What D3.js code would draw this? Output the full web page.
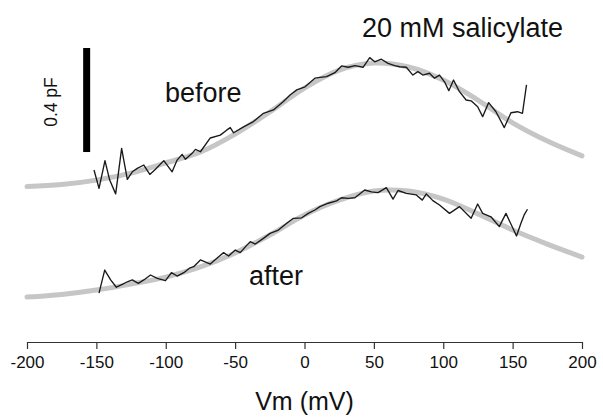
<!DOCTYPE html>
<html>
<head>
<meta charset="utf-8">
<script src="https://cdn.jsdelivr.net/npm/d3@7"></script>
<style>
  html, body { margin: 0; padding: 0; background: #fff; }
  svg { display: block; font-family: "Liberation Sans", Arial, sans-serif; }
</style>
</head>
<body>
<svg id="chart" width="603" height="419"></svg>
<script>
// ---- data (Vm in mV, capacitance in pF, traces vertically offset) ----
const xTicks = [-200, -150, -100, -50, 0, 50, 100, 150, 200];

const fitV = [-200, -175, -150, -125, -100, -75, -50, -25, 0, 25, 50, 75, 100, 125, 150, 175, 200];
const beforeFit = [0.590, 0.598, 0.615, 0.642, 0.681, 0.723, 0.792, 0.877, 0.969, 1.038, 1.065, 1.050, 1.000, 0.923, 0.835, 0.765, 0.708];
const afterFit  = [0.165, 0.175, 0.192, 0.215, 0.242, 0.281, 0.335, 0.404, 0.481, 0.538, 0.573, 0.573, 0.542, 0.485, 0.423, 0.369, 0.319];

const beforeV = [-151.7, -148.1, -143.8, -140.4, -136.1, -131.8, -127.7, -124.1, -120.5, -115.8, -111.5, -107.4, -101.4, -95.4, -91.8, -88.2, -85.8, -81.0, -78.6, -75.0, -67.9, -60.7, -55.9, -53.5, -51.1, -43.9, -36.8, -29.6, -22.4, -15.2, -10.4, -5.6, 0.4, 7.5, 11.1, 15.9, 21.9, 26.7, 31.5, 36.3, 42.2, 47.0, 50.6, 55.4, 60.2, 65.0, 68.6, 73.4, 78.1, 81.7, 85.3, 90.1, 93.7, 97.3, 100.9, 104.0, 107.4, 111.7, 116.5, 120.1, 124.8, 128.4, 132.7, 138.0, 144.0, 148.8, 153.5, 157.1, 160.0];
const beforeC = [0.654, 0.583, 0.690, 0.615, 0.562, 0.737, 0.618, 0.647, 0.660, 0.673, 0.637, 0.657, 0.690, 0.647, 0.692, 0.714, 0.695, 0.718, 0.733, 0.724, 0.777, 0.788, 0.808, 0.817, 0.797, 0.820, 0.840, 0.872, 0.885, 0.917, 0.942, 0.962, 0.974, 1.007, 1.010, 1.013, 1.028, 1.054, 1.049, 1.055, 1.049, 1.086, 1.070, 1.080, 1.064, 1.055, 1.051, 1.049, 1.019, 1.032, 1.019, 1.026, 1.007, 1.019, 0.993, 0.959, 1.000, 0.955, 0.923, 0.920, 0.897, 0.859, 0.913, 0.878, 0.817, 0.874, 0.878, 0.872, 0.981];

const afterV = [-148.1, -144.0, -139.7, -135.6, -131.3, -127.7, -124.1, -119.8, -115.8, -111.0, -106.1, -100.2, -95.9, -91.8, -87.0, -82.9, -79.9, -75.0, -67.9, -61.9, -58.3, -54.7, -49.9, -46.3, -41.5, -39.1, -35.5, -29.6, -24.8, -18.8, -12.8, -8.0, -2.0, 2.7, 7.5, 11.1, 17.1, 23.1, 26.7, 31.5, 36.3, 43.4, 48.3, 53.0, 59.0, 63.8, 67.4, 73.4, 80.6, 84.9, 87.8, 92.5, 97.3, 104.5, 111.7, 120.1, 124.8, 128.4, 134.4, 140.4, 145.2, 152.8, 156.0, 158.3, 160.7];
const afterC = [0.180, 0.269, 0.231, 0.203, 0.214, 0.224, 0.231, 0.218, 0.231, 0.250, 0.237, 0.228, 0.259, 0.246, 0.259, 0.276, 0.282, 0.308, 0.292, 0.320, 0.336, 0.323, 0.346, 0.336, 0.365, 0.378, 0.369, 0.391, 0.410, 0.423, 0.449, 0.468, 0.470, 0.487, 0.500, 0.513, 0.526, 0.535, 0.547, 0.545, 0.547, 0.577, 0.570, 0.567, 0.586, 0.542, 0.575, 0.564, 0.558, 0.538, 0.562, 0.536, 0.519, 0.487, 0.513, 0.468, 0.523, 0.487, 0.474, 0.436, 0.487, 0.400, 0.449, 0.481, 0.503];

const scaleBarSize = 0.4;   // pF
const labels = { title: "20 mM salicylate", before: "before", after: "after", bar: "0.4 pF", xAxis: "Vm (mV)" };

// ---- layout ----
const svg = d3.select("#chart");
const axisY = 342;
const x = d3.scaleLinear().domain([-200, 200]).range([27, 582]);
const y = d3.scaleLinear().domain([0, 1]).range([340, 80]);

const fitLine = d3.line().x(d => x(d[0])).y(d => y(d[1])).curve(d3.curveCatmullRom.alpha(0.5));
const traceLine = d3.line().x(d => x(d[0])).y(d => y(d[1]));

const zip = (a, b) => a.map((v, i) => [v, b[i]]);

// fits (thick light grey)
[beforeFit, afterFit].forEach(f => {
  svg.append("path")
    .datum(zip(fitV, f))
    .attr("d", fitLine)
    .attr("fill", "none")
    .attr("stroke", "#c6c6c6")
    .attr("stroke-width", 5)
    .attr("stroke-linecap", "round");
});

// raw traces (thin black)
[[beforeV, beforeC], [afterV, afterC]].forEach(([v, c]) => {
  svg.append("path")
    .datum(zip(v, c))
    .attr("d", traceLine)
    .attr("fill", "none")
    .attr("stroke", "#1a1a1a")
    .attr("stroke-width", 1.35)
    .attr("stroke-linejoin", "round");
});

// scale bar
const barV = -157;
const barBase = 0.723;
svg.append("rect")
  .attr("x", x(barV) - 3.5)
  .attr("width", 7)
  .attr("y", y(barBase + scaleBarSize))
  .attr("height", y(barBase) - y(barBase + scaleBarSize))
  .attr("fill", "#000");

svg.append("text")
  .attr("transform", `translate(57,${(y(barBase) + y(barBase + scaleBarSize)) / 2 + 2}) rotate(-90)`)
  .attr("text-anchor", "middle")
  .attr("font-size", 17.5)
  .attr("fill", "#111")
  .text(labels.bar);

// labels
svg.append("text").attr("x", 362).attr("y", 37).attr("font-size", 27).attr("fill", "#111").text(labels.title);
svg.append("text").attr("x", 165).attr("y", 102).attr("font-size", 27).attr("fill", "#111").text(labels.before);
svg.append("text").attr("x", 249).attr("y", 285).attr("font-size", 27).attr("fill", "#111").text(labels.after);

// x axis
const axis = d3.axisBottom(x).tickValues(xTicks).tickSize(7).tickSizeOuter(0).tickPadding(7)
  .tickFormat(d => d < 0 ? "-" + Math.abs(d) : String(d));
const gAxis = svg.append("g").attr("transform", `translate(0,${axisY})`).call(axis);
gAxis.select(".domain").attr("stroke", "#333").attr("stroke-width", 1.2);
gAxis.selectAll(".tick line").attr("stroke", "#333").attr("stroke-width", 1.2);
gAxis.selectAll(".tick text").attr("font-size", 17).attr("fill", "#111").attr("font-family", "Liberation Sans, Arial, sans-serif");

svg.append("text")
  .attr("x", (x(-200) + x(200)) / 2)
  .attr("y", 410)
  .attr("text-anchor", "middle")
  .attr("font-size", 25)
  .attr("fill", "#111")
  .text(labels.xAxis);
</script>
</body>
</html>
